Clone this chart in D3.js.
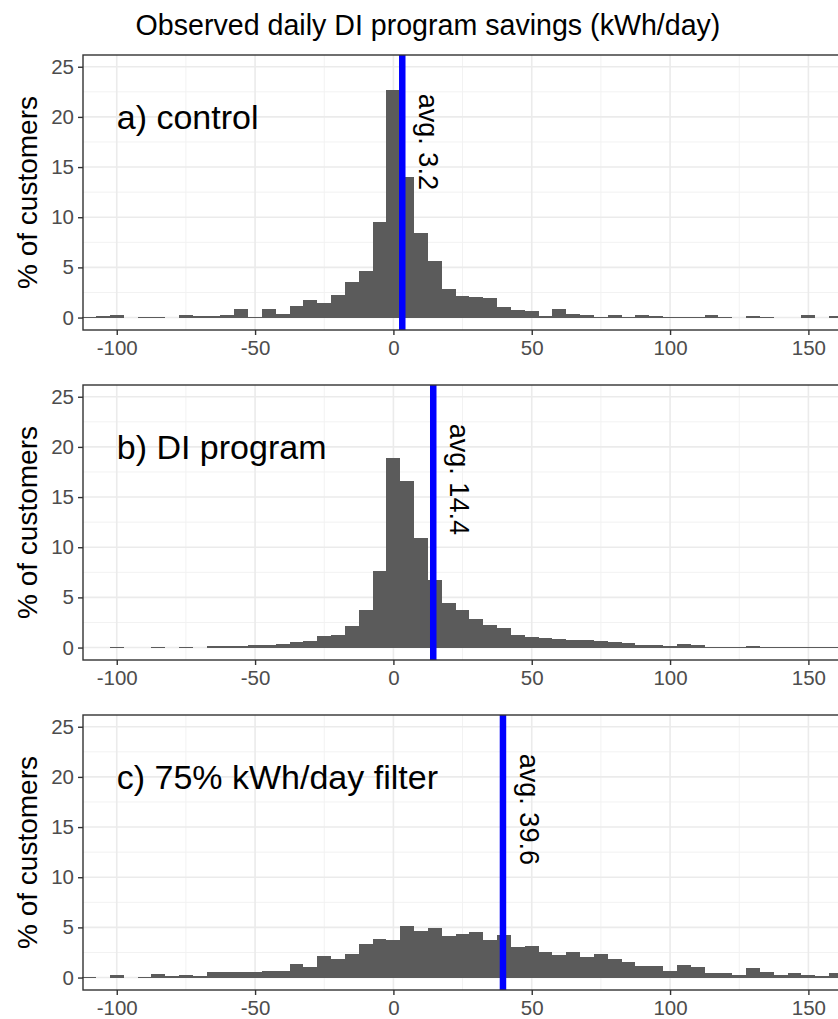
<!DOCTYPE html>
<html>
<head>
<meta charset="utf-8">
<script src="https://cdn.jsdelivr.net/npm/d3@7"></script>
<style>
  html, body { margin: 0; padding: 0; background: #fff; }
  svg { display: block; font-family: "Liberation Sans", Arial, Helvetica, sans-serif; }
</style>
</head>
<body>
<svg id="chart" width="838" height="1019"></svg>
<script>
// Histogram bin centres (kWh/day), bin width 5
const binCenters = [-110, -105, -100, -95, -90, -85, -80, -75, -70, -65, -60, -55, -50, -45, -40, -35, -30, -25, -20, -15, -10, -5,
  0, 5, 10, 15, 20, 25, 30, 35, 40, 45, 50, 55, 60, 65, 70, 75, 80, 85, 90, 95, 100, 105, 110, 115, 120, 125, 130, 135, 140, 145, 150, 155, 160];
const binWidth = 5;

// % of customers per bin
const controlPct = [0.05, 0.15, 0.25, 0, 0.1, 0.1, 0, 0.3, 0.15, 0.15, 0.3, 0.9, 0.05, 0.9, 0.4, 1.2, 1.8, 1.5, 2.2, 3.5, 4.6, 9.5,
  22.7, 14.0, 8.4, 5.6, 2.8, 2.1, 2.0, 1.9, 1.1, 0.8, 0.7, 0.2, 0.9, 0.35, 0.25, 0.05, 0.3, 0.05, 0.3, 0.2, 0.1, 0.1, 0.1, 0.3, 0.05, 0, 0.15, 0.05, 0, 0, 0.25, 0, 0.15];
const programPct = [0, 0, 0.05, 0, 0, 0.05, 0, 0.05, 0, 0.15, 0.15, 0.15, 0.25, 0.25, 0.4, 0.6, 0.65, 1.2, 1.3, 2.1, 3.7, 7.6,
  18.85, 16.6, 10.9, 6.7, 4.4, 3.7, 2.8, 2.2, 1.9, 1.3, 1.1, 1.0, 0.87, 0.8, 0.73, 0.7, 0.53, 0.43, 0.23, 0.23, 0.17, 0.33, 0.23, 0.07, 0.07, 0.07, 0.17, 0.05, 0.05, 0.05, 0.05, 0.05, 0.05];
const filterPct = [0.03, 0, 0.23, 0, 0.05, 0.33, 0.17, 0.23, 0.17, 0.53, 0.53, 0.53, 0.53, 0.7, 0.7, 1.37, 1.1, 2.15, 1.83, 2.33, 3.33, 3.83,
  3.76, 5.1, 4.6, 4.93, 4.1, 4.36, 4.5, 3.7, 4.2, 3.0, 3.1, 2.53, 2.2, 2.5, 2.03, 2.3, 1.83, 1.6, 1.17, 1.17, 0.7, 1.27, 1.1, 0.5, 0.5, 0.27, 1.0, 0.53, 0.27, 0.43, 0.27, 0.2, 0.5];

const panelLabels = ["a) control", "b) DI program", "c) 75% kWh/day filter"];
const averages = [3.2, 14.4, 39.6];
const seriesList = [controlPct, programPct, filterPct];

const xTicks = [-100, -50, 0, 50, 100, 150];
const xMinor = [-75, -25, 25, 75, 125];
const yTicks = [0, 5, 10, 15, 20, 25];
const yMinor = [2.5, 7.5, 12.5, 17.5, 22.5];

const titleText = "Observed daily DI program savings (kWh/day)";
const yLabelText = "% of customers";

const svg = d3.select("#chart");

const left = 83;
const panelTops = [55, 385, 715];
const panelH = 275;
const plotRight = 1000; // panel continues past the visible edge

// x scale shared by all panels
const x = d3.scaleLinear().domain([-112.2, 160.7]).range([left, 838]);

// Title
svg.append("text")
  .attr("x", 428).attr("y", 35)
  .attr("text-anchor", "middle")
  .attr("font-size", 28.6).attr("fill", "#000")
  .text(titleText);

seriesList.forEach((vals, i) => {
  const top = panelTops[i];
  const bottom = top + panelH;
  const y = d3.scaleLinear().domain([-1.24, 26.17]).range([bottom, top]);
  const g = svg.append("g");

  // panel background
  g.append("rect").attr("x", left).attr("y", top)
    .attr("width", plotRight - left).attr("height", panelH).attr("fill", "#fff");

  // minor grid
  g.selectAll(".ymin").data(yMinor).enter().append("line")
    .attr("x1", left).attr("x2", plotRight)
    .attr("y1", d => y(d)).attr("y2", d => y(d))
    .attr("stroke", "#f2f2f2").attr("stroke-width", 1);
  g.selectAll(".xmin").data(xMinor).enter().append("line")
    .attr("x1", d => x(d)).attr("x2", d => x(d))
    .attr("y1", top).attr("y2", bottom)
    .attr("stroke", "#f2f2f2").attr("stroke-width", 1);
  // major grid
  g.selectAll(".ymaj").data(yTicks).enter().append("line")
    .attr("x1", left).attr("x2", plotRight)
    .attr("y1", d => y(d)).attr("y2", d => y(d))
    .attr("stroke", "#ebebeb").attr("stroke-width", 1.6);
  g.selectAll(".xmaj").data(xTicks).enter().append("line")
    .attr("x1", d => x(d)).attr("x2", d => x(d))
    .attr("y1", top).attr("y2", bottom)
    .attr("stroke", "#ebebeb").attr("stroke-width", 1.6);

  // histogram bars
  g.selectAll(".bar").data(binCenters.map((c, k) => ({c, v: vals[k]})).filter(d => d.v > 0))
    .enter().append("rect")
    .attr("x", d => x(d.c - binWidth / 2))
    .attr("width", d => x(d.c + binWidth / 2) - x(d.c - binWidth / 2))
    .attr("y", d => y(d.v))
    .attr("height", d => y(0) - y(d.v))
    .attr("fill", "#5b5b5b")
    .attr("shape-rendering", "crispEdges");

  // average line
  g.append("line")
    .attr("x1", x(averages[i])).attr("x2", x(averages[i]))
    .attr("y1", top).attr("y2", bottom)
    .attr("stroke", "#0000ff").attr("stroke-width", 6.5);

  // average label, rotated to read downward
  const lx = x(averages[i] + 9.6), ly = y(22.3);
  g.append("text")
    .attr("transform", `translate(${lx},${ly}) rotate(90)`)
    .attr("dy", "0.35em")
    .attr("font-size", 27).attr("fill", "#000")
    .text("avg. " + averages[i]);

  // panel label
  g.append("text")
    .attr("x", x(-100)).attr("y", y(20)).attr("dy", "0.35em")
    .attr("font-size", 34).attr("fill", "#000")
    .text(panelLabels[i]);

  // panel border
  g.append("rect").attr("x", left).attr("y", top)
    .attr("width", plotRight - left).attr("height", panelH)
    .attr("fill", "none").attr("stroke", "#333333").attr("stroke-width", 1.4);

  // axes
  const xAxis = d3.axisBottom(x).tickValues(xTicks).tickSize(5).tickPadding(5).tickFormat(d3.format("d"));
  const gx = g.append("g").attr("transform", `translate(0,${bottom})`).call(xAxis);
  gx.select(".domain").remove();
  gx.selectAll(".tick line").attr("stroke", "#333333").attr("stroke-width", 1.4);
  gx.selectAll(".tick text").attr("fill", "#4d4d4d").attr("font-size", 20.5)
    .attr("font-family", "Liberation Sans, Arial, sans-serif")
    .text(d => d < 0 ? "-" + Math.abs(d) : d);

  const yAxis = d3.axisLeft(y).tickValues(yTicks).tickSize(5).tickPadding(4);
  const gy = g.append("g").attr("transform", `translate(${left},0)`).call(yAxis);
  gy.select(".domain").remove();
  gy.selectAll(".tick line").attr("stroke", "#333333").attr("stroke-width", 1.4);
  gy.selectAll(".tick text").attr("fill", "#4d4d4d").attr("font-size", 20.5)
    .attr("font-family", "Liberation Sans, Arial, sans-serif");

  // y axis title
  g.append("text")
    .attr("transform", `translate(27,${(top + bottom) / 2}) rotate(-90)`)
    .attr("text-anchor", "middle").attr("dy", "0.35em")
    .attr("font-size", 28).attr("fill", "#000")
    .text(yLabelText);
});
</script>
</body>
</html>
